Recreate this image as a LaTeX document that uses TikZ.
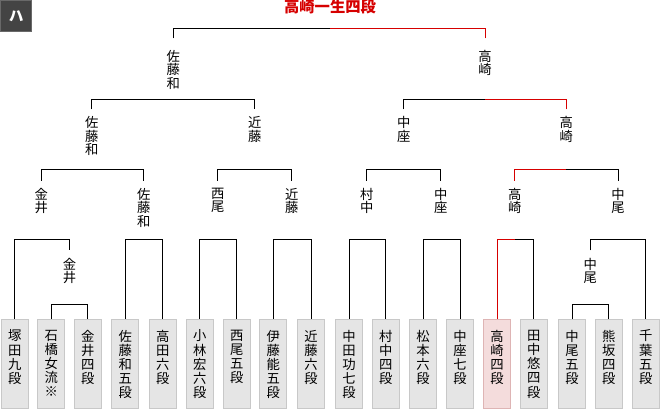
\documentclass[tikz,border=0pt]{standalone}
\usepackage{fontspec}
\setmainfont{Noto Sans CJK JP}
\definecolor{winred}{RGB}{214,0,0}
\definecolor{boxgray}{RGB}{229,229,229}
\definecolor{boxline}{RGB}{200,200,200}
\definecolor{winfill}{RGB}{244,220,220}
\definecolor{winline}{RGB}{222,180,180}
\definecolor{tabgray}{RGB}{68,68,68}
\definecolor{tabline}{RGB}{105,105,105}
\tikzstyle{player}=[draw=boxline, fill=boxgray, line width=0.75pt, anchor=north, minimum width=20.25pt, minimum height=66.75pt, inner sep=0pt]
\tikzstyle{winner}=[player, draw=winline, fill=winfill]
\tikzstyle{pname}=[anchor=north, align=center, inner sep=0pt, yshift=-8pt, font=\fontsize{10pt}{10.65pt}\selectfont]
\tikzstyle{result}=[anchor=north, align=center, inner sep=0pt, outer sep=5.5pt, font=\fontsize{10pt}{10.1pt}\selectfont]
\tikzstyle{bracket}=[line width=0.75pt]
\tikzstyle{winpath}=[bracket, winred]
\tikzstyle{champ}=[inner sep=0pt, text=winred, font=\fontsize{11.5pt}{12pt}\selectfont\bfseries]
\tikzstyle{tab}=[fill=tabgray, draw=tabline, line width=0.75pt, minimum size=23.5pt, inner sep=0pt, text=white, font=\fontsize{11pt}{12pt}\selectfont\bfseries]

\begin{document}
\begin{tikzpicture}[x=0.75pt, y=-0.75pt]
	\useasboundingbox (0,0) rectangle (660,409);
	\coordinate (lv0) at (0,305);
	\coordinate (lv1) at (0,240);
	\coordinate (lv2) at (0,170);
	\coordinate (lv3) at (0,99.3);
	\coordinate (lv4) at (0,28.7);

	\node[tab] (tab) at (16.3,16.3) {ハ};
	\node[champ] (champ) at (330,7) {高崎一生四段};

	\node[player] (p1) at (14.7,319) {};
	\node[player] (p2) at (51.3,319) {};
	\node[player] (p3) at (87.7,319) {};
	\node[player] (p4) at (125.3,319) {};
	\node[player] (p5) at (162.7,319) {};
	\node[player] (p6) at (199.7,319) {};
	\node[player] (p7) at (236.7,319) {};
	\node[player] (p8) at (273.3,319) {};
	\node[player] (p9) at (311,319) {};
	\node[player] (p10) at (349,319) {};
	\node[player] (p11) at (385.7,319) {};
	\node[player] (p12) at (423,319) {};
	\node[player] (p13) at (460,319) {};
	\node[winner] (p14) at (497,319) {};
	\node[player] (p15) at (533.7,319) {};
	\node[player] (p16) at (572,319) {};
	\node[player] (p17) at (608.7,319) {};
	\node[player] (p18) at (645.7,319) {};

	\node[pname] (n1) at (p1.north) {塚\\田\\九\\段};
	\node[pname] (n2) at (p2.north) {石\\橋\\女\\流\\※};
	\node[pname] (n3) at (p3.north) {金\\井\\四\\段};
	\node[pname] (n4) at (p4.north) {佐\\藤\\和\\五\\段};
	\node[pname] (n5) at (p5.north) {高\\田\\六\\段};
	\node[pname] (n6) at (p6.north) {小\\林\\宏\\六\\段};
	\node[pname] (n7) at (p7.north) {西\\尾\\五\\段};
	\node[pname] (n8) at (p8.north) {伊\\藤\\能\\五\\段};
	\node[pname] (n9) at (p9.north) {近\\藤\\六\\段};
	\node[pname] (n10) at (p10.north) {中\\田\\功\\七\\段};
	\node[pname] (n11) at (p11.north) {村\\中\\四\\段};
	\node[pname] (n12) at (p12.north) {松\\本\\六\\段};
	\node[pname] (n13) at (p13.north) {中\\座\\七\\段};
	\node[pname] (n14) at (p14.north) {高\\崎\\四\\段};
	\node[pname] (n15) at (p15.north) {田\\中\\悠\\四\\段};
	\node[pname] (n16) at (p16.north) {中\\尾\\五\\段};
	\node[pname] (n17) at (p17.north) {熊\\坂\\四\\段};
	\node[pname] (n18) at (p18.north) {千\\葉\\五\\段};

	\node[result] (k1) at (69.5,250.5) {金\\井};
	\node[result] (k2) at (590.3,250.5) {中\\尾};

	\node[result] (s1) at (41.3,180.7) {金\\井};
	\node[result] (s2) at (143.8,180.7) {佐\\藤\\和};
	\node[result] (s3) at (217.8,180.7) {西\\尾};
	\node[result] (s4) at (291.8,180.7) {近\\藤};
	\node[result] (s5) at (366.7,180.7) {村\\中};
	\node[result] (s6) at (440.7,180.7) {中\\座};
	\node[result] (s7) at (514.7,180.7) {高\\崎};
	\node[result] (s8) at (618,180.7) {中\\尾};

	\node[result] (t1) at (91.8,109.3) {佐\\藤\\和};
	\node[result] (t2) at (254.8,109.3) {近\\藤};
	\node[result] (t3) at (403.7,109.3) {中\\座};
	\node[result] (t4) at (566.3,109.3) {高\\崎};

	\node[result, outer ysep=8.8pt] (f1) at (173.3,38.3) {佐\\藤\\和};
	\node[result, outer ysep=8.8pt] (f2) at (485,38.3) {高\\崎};

	\draw[bracket] (p2.north) |- (p3.north |- lv0) -- (p3.north);
	\draw[bracket] (p16.north) |- (p17.north |- lv0) -- (p17.north);

	\draw[bracket] (p1.north) |- (k1.north |- lv1) -- (k1.north);
	\draw[bracket] (p4.north) |- (p5.north |- lv1) -- (p5.north);
	\draw[bracket] (p6.north) |- (p7.north |- lv1) -- (p7.north);
	\draw[bracket] (p8.north) |- (p9.north |- lv1) -- (p9.north);
	\draw[bracket] (p10.north) |- (p11.north |- lv1) -- (p11.north);
	\draw[bracket] (p12.north) |- (p13.north |- lv1) -- (p13.north);
	\draw[bracket] (p14.north) |- (p15.north |- lv1) -- (p15.north);
	\draw[bracket] (k2.north) |- (p18.north |- lv1) -- (p18.north);

	\draw[bracket] (s1.north) |- (s2.north |- lv2) -- (s2.north);
	\draw[bracket] (s3.north) |- (s4.north |- lv2) -- (s4.north);
	\draw[bracket] (s5.north) |- (s6.north |- lv2) -- (s6.north);
	\draw[bracket] (s7.north) |- (s8.north |- lv2) -- (s8.north);

	\draw[bracket] (t1.north) |- (t2.north |- lv3) -- (t2.north);
	\draw[bracket] (t3.north) |- (t4.north |- lv3) -- (t4.north);

	\draw[bracket] (f1.north) |- (f2.north |- lv4) -- (f2.north);

	\draw[winpath] (p14.north) |- (s7 |- lv1);
	\draw[winpath] (s7.north) |- (t4 |- lv2);
	\draw[winpath] (t4.north) |- (f2 |- lv3);
	\draw[winpath] (f2.north) |- (champ |- lv4);
\end{tikzpicture}
\end{document}
